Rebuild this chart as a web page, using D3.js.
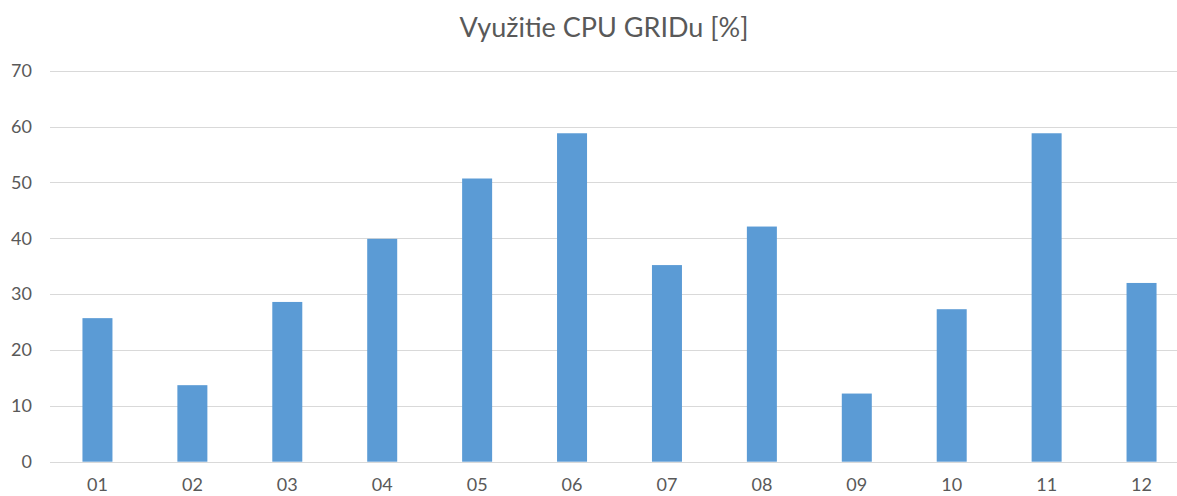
<!DOCTYPE html>
<html>
<head>
<meta charset="utf-8">
<script src="https://cdn.jsdelivr.net/npm/d3@7"></script>
<style>
  body { margin: 0; background: #fff; }
  text { font-family: Lato, "Open Sans", sans-serif; fill: #595959; }
</style>
</head>
<body>
<div id="chart"></div>
<script>
// mesiace a vyuzitie CPU
var months = ['01','02','03','04','05','06','07','08','09','10','11','12'];
var usage = [25.7, 13.7, 28.6, 39.9, 50.7, 58.8, 35.2, 42.1, 12.2, 27.3, 58.8, 32.0];
var yTicks = [0, 10, 20, 30, 40, 50, 60, 70];

var width = 1177, height = 496;
var plotLeft = 50, plotRight = 1189, plotTop = 70.7, plotBottom = 461.7;

var svg = d3.select('#chart')
    .append('svg')
    .attr('width', width)
    .attr('height', height);

var xScale = d3.scaleBand()
    .domain(months)
    .range([plotLeft, plotRight])
    .padding(0);

var yScale = d3.scaleLinear()
    .domain([0, 70])
    .range([plotBottom, plotTop]);

// gridlines
svg.append('g')
    .selectAll('line')
    .data(yTicks)
    .enter().append('line')
    .attr('x1', plotLeft)
    .attr('x2', width)
    .attr('y1', function(d) { return Math.round(yScale(d)) + 0.5; })
    .attr('y2', function(d) { return Math.round(yScale(d)) + 0.5; })
    .style('stroke', '#d9d9d9')
    .style('stroke-width', 1);

// y labels
var yAxis = svg.append('g')
    .attr('transform', 'translate(' + (plotLeft - 18) + ',0)')
    .call(d3.axisLeft(yScale).tickValues(yTicks).tickSize(0).tickPadding(0));
yAxis.select('.domain').remove();
yAxis.selectAll('text')
    .style('font-size', '18px')
    .style('font-family', 'Lato, sans-serif')
    .style('fill', '#595959');

var barW = 30;
svg.append('g')
    .selectAll('rect')
    .data(usage)
    .enter().append('rect')
    .attr('x', function(d, i) { return xScale(months[i]) + xScale.bandwidth() / 2 - barW / 2; })
    .attr('y', function(d) { return yScale(d); })
    .attr('width', barW)
    .attr('height', function(d) { return yScale(0) - yScale(d); })
    .style('fill', '#5b9bd5');

// x labels
var xAxis = svg.append('g')
    .attr('transform', 'translate(0,' + plotBottom + ')')
    .call(d3.axisBottom(xScale).tickSize(0).tickPadding(17));
xAxis.select('.domain').remove();
xAxis.selectAll('text')
    .style('font-size', '18px')
    .style('font-family', 'Lato, sans-serif')
    .style('fill', '#595959');

svg.append('text')
    .attr('x', 604)
    .attr('y', 37)
    .attr('text-anchor', 'middle')
    .style('font-size', '27px')
    .text('Využitie CPU GRIDu [%]');
</script>
</body>
</html>
